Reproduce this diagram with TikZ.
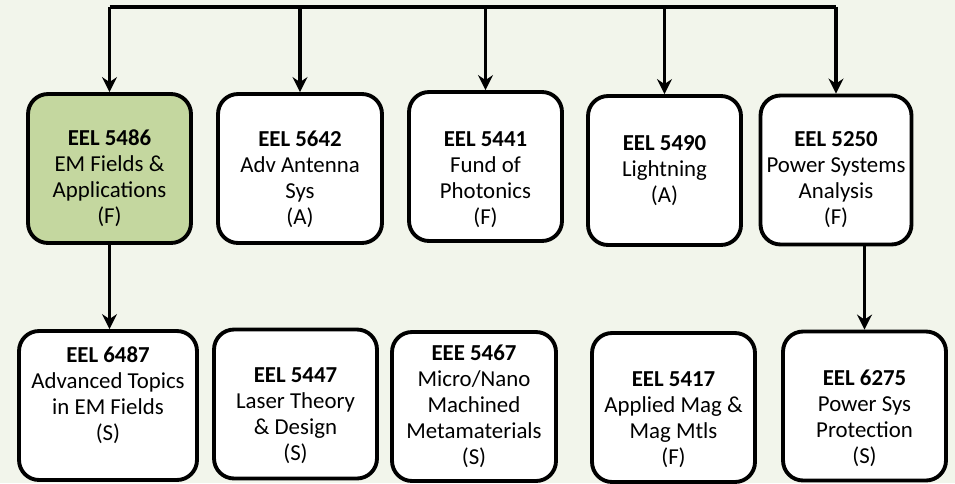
\documentclass[tikz,border=0pt]{standalone}
\usepackage{fontspec}
\setmainfont{Carlito}
\usepackage{xcolor}
\definecolor{paper}{HTML}{F2F5EB}
\definecolor{leaf}{HTML}{C4D79F}
\usetikzlibrary{arrows.meta}
% nudge the text block of a box down (first line) or up (last line)
\newcommand\txtdown[1]{\rule{0pt}{\dimexpr 8.6pt+#1*2\relax}}
\newcommand\txtup[1]{\rule[-\dimexpr 3.3pt+#1*2\relax]{0pt}{0pt}}

\begin{document}
\begin{tikzpicture}[x=0.02cm, y=-0.02cm,
    course/.style={draw, line width=2.2pt, rounded corners=0.4cm, fill=white,
      align=center, inner sep=1pt, minimum height=2.98cm,
      font=\fontsize{13}{14.8}\selectfont},
    link/.style={line width=1.8pt, -{Stealth[length=0.3cm, width=0.3cm, inset=0.1cm]}}]
  % Background
  \fill[paper] (0,0) rectangle (955,483);
  \useasboundingbox (0,0) rectangle (955,483);

  % Top row
  \node[course, fill=leaf, minimum width=3.26cm] (f5486) at (109.5,168.5)
    {\txtdown{0.2cm}\textbf{EEL 5486}\\EM Fields \&\\Applications\\(F)};
  \node[course, minimum width=3.28cm] (a5642) at (300,168.5)
    {\txtdown{0.22cm}\textbf{EEL 5642}\\Adv Antenna\\Sys\\(A)};
  \node[course, minimum width=3.06cm] (f5441) at (485.5,166.5)
    {\txtdown{0.26cm}\textbf{EEL 5441}\\Fund of\\Photonics\\(F)};
  \node[course, minimum width=3.06cm] (a5490) at (664.5,170.5)
    {\textbf{EEL 5490}\\Lightning\\(A)};
  \node[course, minimum width=3.02cm] (f5250) at (836,170)
    {\txtdown{0.2cm}\textbf{EEL 5250}\\Power Systems\\Analysis\\(F)};

  % Bottom row
  \node[course, minimum width=3.56cm] (s6487) at (108,405.5)
    {\textbf{EEL 6487}\\Advanced Topics\\in EM Fields\\(S)\txtup{0.18cm}};
  \node[course, minimum width=3.26cm] (s5447) at (295.5,404)
    {\txtdown{0.24cm}\textbf{EEL 5447}\\Laser Theory\\\& Design\\(S)};
  \node[course, minimum width=3.28cm] (s5467) at (474,406.5)
    {\textbf{EEE 5467}\\Micro/Nano\\Machined\\Metamaterials\\(S)};
  \node[course, minimum width=3.26cm] (f5417) at (673.5,407.5)
    {\txtdown{0.24cm}\textbf{EEL 5417}\\Applied Mag \&\\Mag Mtls\\(F)};
  \node[course, minimum width=3.26cm] (s6275) at (864.5,406)
    {\txtdown{0.26cm}\textbf{EEL 6275}\\Power Sys\\Protection\\(S)};

  % Bus across the top
  \coordinate (bus) at (109,7);
  \draw[line width=1.8pt] (f5486.north |- bus) -- (f5250.north |- bus);
  \foreach \c in {f5486,a5642,f5441,a5490,f5250}{
    \draw[link] (\c.north |- bus) -- (\c.north);
  }

  % Follow-on courses
  \draw[link] (f5486.south) -- (f5486.south |- s6487.north);
  \draw[link] (s6275.north |- f5250.south) -- (s6275.north);
\end{tikzpicture}
\end{document}
